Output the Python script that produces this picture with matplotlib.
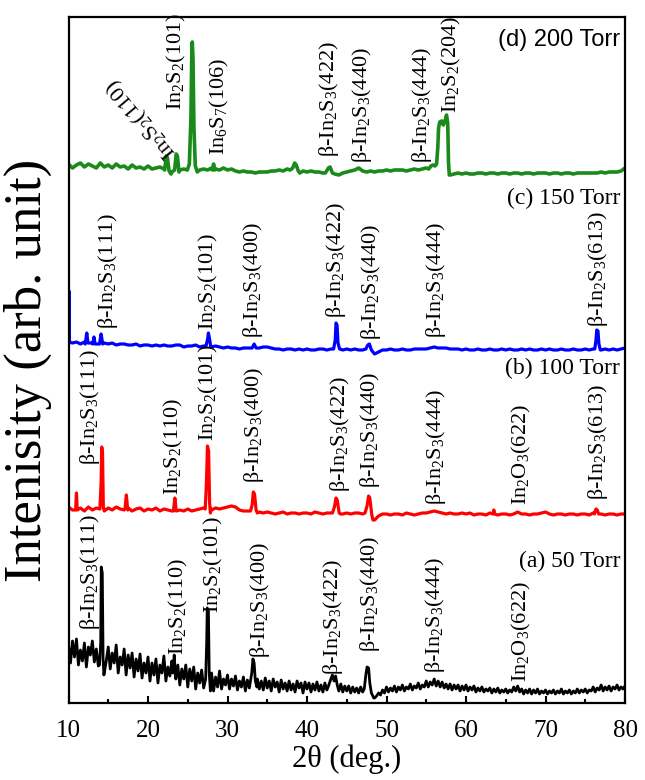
import numpy as np
import matplotlib.pyplot as plt
from matplotlib.ticker import MultipleLocator

plt.rcParams['font.family'] = ['Liberation Serif', 'DejaVu Serif']
plt.rcParams['mathtext.fontset'] = 'custom'
plt.rcParams['mathtext.rm'] = 'Liberation Serif'
plt.rcParams['mathtext.it'] = 'Liberation Serif:italic'

# sampling grids for the backgrounds (10..80 deg)
grid_fine = np.arange(10, 80.001, 0.25)
grid_coarse = np.arange(10, 80.001, 0.5)

# ---- (a) 50 Torr, black (0.25 deg steps) ----
bg_a = [58, 40, 62, 46, 64, 38, 53, 42, 60, 36, 56, 48, 62, 41, 54, 37, 50, 45, 30, 42,
        56, 34, 50, 40, 58, 30, 46, 38, 54, 28, 48, 35, 50, 26, 44, 32, 49, 25, 40, 30,
        46, 22, 40, 28, 44, 20, 38, 30, 47, 22, 36, 27, 42, 30, 24, 38, 18, 34, 24, 38,
        16, 34, 22, 36, 14, 30, 20, 33, 15, 20, 20, 20, 30, 12, 26, 16, 32, 14, 24, 18,
        28, 14, 24, 17, 27, 13, 22, 16, 26, 12, 23, 15, 20, 20, 20, 24, 14, 22, 13, 25,
        15, 22, 12, 24, 16, 21, 11, 23, 14, 20, 12, 22, 13, 19, 11, 22, 15, 20, 10, 21,
        14, 20, 11, 19, 13, 21, 12, 18, 11, 20, 13, 18, 18, 18, 18, 18, 12, 19, 11, 17,
        12, 17, 10, 16, 11, 15, 10, 16, 11, 14, 14, 14, 14, 14, 5, 7, 10, 8, 13, 10,
        16, 11, 15, 12, 17, 11, 16, 13, 18, 12, 16, 14, 19, 13, 17, 15, 20, 14, 18, 16,
        22, 16, 21, 18, 24, 17, 22, 16, 21, 15, 19, 14, 19, 13, 18, 14, 18, 12, 17, 13,
        18, 12, 16, 13, 17, 11, 15, 12, 16, 11, 14, 12, 15, 10, 14, 11, 15, 10, 13, 11,
        14, 10, 13, 11, 16, 12, 17, 11, 14, 9, 13, 10, 14, 9, 13, 10, 14, 9, 12, 10,
        13, 9, 12, 10, 13, 9, 12, 10, 14, 9, 12, 10, 13, 9, 12, 10, 14, 10, 13, 11,
        14, 10, 13, 12, 16, 11, 15, 13, 18, 12, 16, 13, 17, 12, 16, 14, 18, 13, 16, 14,
        17]
peaks_a = [
    [(13.9, 38), (14.05, 60), (14.12, 136), (14.25, 130), (14.35, 45), (14.45, 28)],
    [(23.1, 30), (23.3, 48), (23.45, 25)],
    [(27.25, 24), (27.38, 60), (27.45, 95), (27.6, 92), (27.7, 30), (27.85, 12)],
    [(32.85, 20), (33.05, 30), (33.2, 44), (33.35, 40), (33.5, 22), (33.7, 16)],
    [(42.7, 17), (43.0, 24), (43.2, 28), (43.4, 22), (43.6, 27), (43.8, 18)],
    [(47.2, 14), (47.4, 28), (47.55, 36), (47.75, 35), (47.9, 20), (48.1, 10), (48.4, 5)],
]

# ---- (b) 100 Torr, red (0.5 deg steps) ----
bg_b = [16, 13, 14, 15, 12, 16, 13, 15, 15, 12,
        15, 13, 16, 14, 13, 15, 12, 14, 15, 12,
        14, 13, 15, 12, 14, 13, 12, 15, 13, 12,
        14, 12, 13, 14, 15, 14, 13, 15, 14, 15,
        16, 17, 16, 13, 12, 12, 12, 12, 11, 10,
        11, 10, 9, 10, 11, 9, 10, 10, 9, 10,
        10, 9, 11, 10, 9, 10, 10, 10, 10, 9,
        10, 9, 10, 10, 9, 10, 10, 3, 7, 9,
        9, 8, 9, 9, 8, 10, 9, 8, 9, 10,
        10, 11, 12, 11, 10, 9, 10, 9, 9, 10,
        9, 10, 8, 9, 9, 8, 10, 9, 8, 9,
        9, 8, 9, 11, 9, 9, 8, 9, 9, 10,
        11, 9, 8, 9, 9, 8, 9, 9, 8, 9,
        9, 8, 10, 10, 9, 8, 9, 9, 8, 9,
        9]
peaks_b = [
    [(10.9, 13), (11.0, 30), (11.1, 13)],
    [(13.95, 14), (14.1, 40), (14.18, 76), (14.28, 70), (14.38, 16)],
    [(17.1, 14), (17.28, 28), (17.45, 13)],
    [(23.2, 12), (23.38, 25), (23.55, 12)],
    [(27.2, 14), (27.35, 40), (27.48, 77), (27.62, 72), (27.75, 20), (27.85, 10), (27.95, 14)],
    [(32.9, 12), (33.1, 18), (33.25, 31), (33.4, 29), (33.6, 13), (33.75, 10)],
    [(43.2, 10), (43.45, 16), (43.65, 25), (43.8, 23), (44.05, 10), (44.2, 9)],
    [(47.3, 10), (47.55, 17), (47.75, 27), (47.9, 25), (48.15, 8), (48.3, 3)],
    [(63.4, 9), (63.5, 13), (63.6, 9)],
    [(76.15, 9), (76.35, 14), (76.5, 13), (76.7, 9)],
]

# ---- (c) 150 Torr, blue ----
bg_c = [14, 15, 16, 14, 16, 15, 15, 14, 14, 15,
        14, 15, 13, 14, 14, 13, 13, 14, 12, 13,
        13, 12, 13, 12, 13, 12, 12, 13, 13, 11,
        12, 12, 13, 11, 12, 12, 11, 12, 11, 10,
        11, 10, 10, 9, 10, 10, 10, 10, 10, 11,
        11, 10, 9, 9, 8, 9, 9, 8, 9, 8,
        9, 8, 8, 9, 9, 8, 9, 9, 9, 8,
        9, 8, 9, 8, 8, 9, 9, 4, 6, 8,
        8, 9, 8, 8, 9, 8, 8, 9, 9, 9,
        9, 10, 11, 10, 10, 10, 9, 9, 9, 8,
        9, 8, 8, 9, 8, 8, 9, 8, 8, 9,
        8, 9, 8, 8, 9, 8, 9, 8, 8, 9,
        8, 9, 8, 8, 9, 8, 8, 9, 8, 8,
        9, 8, 9, 9, 8, 9, 8, 9, 8, 9,
        10]
peaks_c = [
    [(10.03, 14), (10.06, 67), (10.1, 16)],
    [(12.1, 14), (12.3, 25), (12.45, 15)],
    [(13.05, 14), (13.2, 21), (13.35, 14)],
    [(13.9, 14), (14.1, 24), (14.3, 14)],
    [(27.3, 12), (27.5, 19), (27.6, 25), (27.72, 20), (27.9, 11)],
    [(33.1, 10), (33.35, 14), (33.6, 10)],
    [(43.35, 9), (43.55, 18), (43.65, 35), (43.78, 33), (43.9, 15), (44.1, 9)],
    [(47.4, 9), (47.65, 13), (47.85, 14), (48.1, 8)],
    [(76.2, 9), (76.35, 18), (76.45, 28), (76.6, 27), (76.72, 14), (76.9, 8)],
]

# ---- (d) 200 Torr, green ----
bg_d = [14, 10, 13, 15, 11, 14, 12, 10, 15, 11,
        13, 10, 14, 11, 12, 9, 13, 10, 11, 9,
        12, 9, 10, 11, 9, 8, 6, 8, 8, 9,
        8, 8, 6, 8, 9, 8, 10, 9, 8, 10,
        8, 9, 7, 6, 7, 6, 6, 5, 6, 6,
        6, 7, 7, 8, 7, 9, 8, 8, 8, 7,
        6, 7, 6, 6, 5, 5, 5, 4, 3, 5,
        6, 7, 8, 10, 7, 6, 7, 6, 7, 7,
        8, 7, 8, 8, 8, 7, 8, 9, 8, 9,
        10, 10, 10, 5, 5, 5, 3, 4, 5, 4,
        5, 4, 4, 5, 5, 4, 5, 5, 4, 5,
        5, 4, 5, 5, 4, 5, 5, 4, 5, 5,
        5, 4, 5, 5, 4, 5, 5, 4, 5, 5,
        5, 5, 5, 5, 6, 5, 6, 6, 6, 7,
        10]
peaks_d = [
    [(22.1, 8), (22.3, 22), (22.45, 20), (22.65, 7)],
    [(22.9, 4), (23.0, 6), (23.35, 8), (23.55, 24), (23.7, 22), (23.9, 6)],
    [(24.95, 8), (25.2, 14), (25.4, 60), (25.5, 120), (25.57, 136), (25.66, 120),
     (25.78, 50), (25.95, 12), (26.2, 6)],
    [(28.1, 8), (28.25, 14), (28.4, 8)],
    [(37.9, 8), (38.2, 10), (38.45, 15), (38.65, 13), (38.9, 7), (39.1, 5)],
    [(42.3, 5), (42.7, 10), (42.9, 11), (43.2, 5)],
    [(55.3, 9), (55.6, 12), (55.85, 13), (56.1, 12)],
    [(56.3, 14), (56.45, 30), (56.55, 50), (56.7, 56), (56.95, 57), (57.15, 53),
     (57.35, 57), (57.55, 63), (57.7, 55), (57.8, 15), (57.9, 3)],
]

names = ['(a) 50 Torr', '(b) 100 Torr', '(c) 150 Torr', '(d) 200 Torr']
colors = ['black', '#ff0000', '#0000ff', '#1a8a1a']
offsets = [0, 180, 345, 525]

# peak labels: (text, 2theta, bottom of the label in plot units)
labels_a = [('β-In$_2$S$_3$(111)', 12.7, 73), ('In$_2$S$_2$(110)', 23.8, 48),
            ('In$_2$S$_2$(101)', 28.2, 90), ('β-In$_2$S$_3$(400)', 34.1, 45),
            ('β-In$_2$S$_3$(422)', 43.3, 28), ('β-In$_2$S$_3$(440)', 47.9, 51),
            ('β-In$_2$S$_3$(444)', 56.1, 30), ('In$_2$O$_3$(622)', 67.0, 21)]
labels_b = [('β-In$_2$S$_3$(111)', 12.7, 238), ('In$_2$S$_2$(110)', 23.2, 208),
            ('In$_2$S$_2$(101)', 27.6, 262), ('β-In$_2$S$_3$(400)', 33.3, 220),
            ('β-In$_2$S$_3$(422)', 44.2, 211), ('β-In$_2$S$_3$(440)', 47.9, 215),
            ('β-In$_2$S$_3$(444)', 56.2, 198), ('In$_2$O$_3$(622)', 67.0, 198),
            ('β-In$_2$S$_3$(613)', 76.6, 203)]
labels_c = [('β-In$_2$S$_3$(111)', 15.0, 374), ('In$_2$S$_2$(101)', 27.6, 373),
            ('β-In$_2$S$_3$(400)', 33.2, 365), ('β-In$_2$S$_3$(422)', 43.6, 385),
            ('β-In$_2$S$_3$(440)', 48.0, 363), ('β-In$_2$S$_3$(444)', 56.2, 365),
            ('β-In$_2$S$_3$(613)', 76.6, 376)]
labels_d = [('In$_2$S$_2$(101)', 23.6, 593), ('In$_6$S$_7$(106)', 29.0, 548),
            ('β-In$_2$S$_3$(422)', 42.8, 546), ('β-In$_2$S$_3$(440)', 46.9, 540),
            ('β-In$_2$S$_3$(444)', 54.5, 540), ('In$_2$S$_2$(204)', 58.2, 590)]


def build(grid, bg, peaks):
    keep = np.ones(len(grid), dtype=bool)
    for pk in peaks:
        keep &= ~((grid >= pk[0][0]) & (grid <= pk[-1][0]))
    x = np.concatenate([grid[keep]] + [[p[0] for p in pk] for pk in peaks])
    y = np.concatenate([np.array(bg)[keep]] + [[p[1] for p in pk] for pk in peaks])
    order = np.argsort(x)
    return x[order], y[order]


fig = plt.figure(figsize=(6.45, 7.80), dpi=100)
ax = fig.add_axes([68.5 / 645, 1 - 703 / 780, 556.5 / 645, 686 / 780])

series = [(grid_fine, bg_a, peaks_a), (grid_coarse, bg_b, peaks_b),
          (grid_coarse, bg_c, peaks_c), (grid_coarse, bg_d, peaks_d)]
widths = [2.0, 2.3, 2.3, 2.6]
for (g, bg, pk), c, off, lw in zip(series, colors, offsets, widths):
    x, y = build(g, bg, pk)
    ax.plot(x, y + off, color=c, lw=lw, solid_joinstyle='round')

fs = 16
for lab in [labels_a, labels_b, labels_c, labels_d]:
    for txt, xp, yb in lab:
        ax.text(xp, yb, txt, rotation=90, ha='center', va='bottom', fontsize=fs)

# tilted label on the 200 Torr pattern
ax.text(19.2, 585, 'In$_2$S$_2$(110)', rotation=130, ha='center', va='center',
        rotation_mode='anchor', fontsize=fs)

name_y = [142, 335, 505, 663]
for nm, yy in zip(names, name_y):
    fam = 'Liberation Sans' if nm.startswith('(d)') else 'Liberation Serif'
    ax.text(79.4, yy, nm, ha='right', va='center', fontsize=17, family=fam)

ax.set_xlim(10, 80)
ax.set_ylim(0, 686)
ax.xaxis.set_major_locator(MultipleLocator(10))
ax.xaxis.set_minor_locator(MultipleLocator(5))
ax.tick_params(axis='x', which='major', direction='in', length=5, width=1.5,
               labelsize=18, pad=12, top=False)
ax.tick_params(axis='x', which='minor', direction='in', length=3, width=1.5, top=False)
ax.set_yticks([])
for s in ax.spines.values():
    s.set_linewidth(1.6)

ax.set_xlabel('2θ (deg.)', fontsize=22, labelpad=2)
fig.text(28 / 645, 1 - 370 / 780, 'Intenisity (arb. unit)', rotation=90,
         ha='center', va='center', fontsize=38)

fig.savefig('out.png', dpi=100)
